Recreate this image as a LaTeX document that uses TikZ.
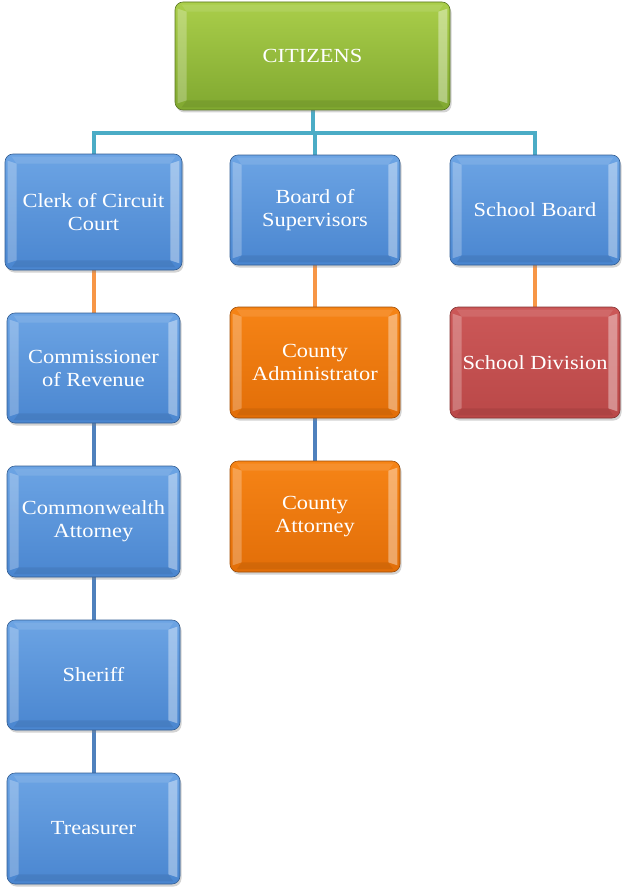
\documentclass[tikz,border=0pt]{standalone}
\usepackage{fontspec}
\setmainfont[FakeStretch=1.12]{Liberation Serif}
\usetikzlibrary{shadows,calc}
\pgfdeclarelayer{background}
\pgfsetlayers{background,main}
\definecolor{gtop}{RGB}{170,206,74}
\definecolor{gbot}{RGB}{128,168,48}
\definecolor{btop}{RGB}{108,164,228}
\definecolor{bbot}{RGB}{74,134,208}
\definecolor{otop}{RGB}{246,132,22}
\definecolor{obot}{RGB}{226,110,8}
\definecolor{rtop}{RGB}{204,88,88}
\definecolor{rbot}{RGB}{186,72,72}
\definecolor{tealline}{RGB}{75,172,198}
\definecolor{orangeline}{RGB}{247,150,70}
\definecolor{blueline}{RGB}{79,129,189}
\tikzset{
  x=1pt, y=1pt,
  orgbox/.style={rounded corners=8pt, draw=#1, line width=0.6pt, text=white,
    align=center, font=\fontsize{20}{23}\selectfont, inner sep=0pt,
    drop shadow={opacity=0.35, shadow xshift=1.5pt, shadow yshift=-2.5pt}},
  greenbox/.style={orgbox={gbot!70!black}, top color=gtop, bottom color=gbot},
  bluebox/.style={orgbox={bbot!70!black}, top color=btop, bottom color=bbot},
  orangebox/.style={orgbox={obot!70!black}, top color=otop, bottom color=obot},
  redbox/.style={orgbox={rbot!70!black}, top color=rtop, bottom color=rbot},
  conn/.style={line width=4pt, draw=#1},
}
\begin{document}
\begin{tikzpicture}
\useasboundingbox (0,0) rectangle (623,-888);
% nodes
\node[greenbox, minimum width=275, minimum height=108] (cit) at (312.5,-56) {CITIZENS};
\node[bluebox, minimum width=177, minimum height=116] (clerk) at (93.5,-212) {Clerk of Circuit\\Court};
\node[bluebox, minimum width=170, minimum height=110] (board) at (315,-210) {Board of\\Supervisors};
\node[bluebox, minimum width=170, minimum height=110] (sb) at (535,-210) {School Board};
\node[bluebox, minimum width=173, minimum height=110] (comm) at (93.5,-368) {Commissioner\\of Revenue};
\node[orangebox, minimum width=170, minimum height=111] (admin) at (315,-362.5) {County\\Administrator};
\node[redbox, minimum width=170, minimum height=111] (sd) at (535,-362.5) {School Division};
\node[bluebox, minimum width=173, minimum height=111] (cwa) at (93.5,-521.5) {Commonwealth\\Attorney};
\node[orangebox, minimum width=170, minimum height=111] (catt) at (315,-516.5) {County\\Attorney};
\node[bluebox, minimum width=173, minimum height=110] (sher) at (93.5,-675) {Sheriff};
\node[bluebox, minimum width=173, minimum height=111] (treas) at (93.5,-828.5) {Treasurer};
% bevels
\foreach \n in {cit,clerk,board,sb,comm,admin,sd,cwa,catt,sher,treas}{
  \path (\n.north west) coordinate (A) (\n.north east) coordinate (B)
        (\n.south east) coordinate (C) (\n.south west) coordinate (D);
  \path ([shift={(12pt,-10pt)}]A) coordinate (a) ([shift={(-12pt,-10pt)}]B) coordinate (b)
        ([shift={(-12pt,10pt)}]C) coordinate (c) ([shift={(12pt,10pt)}]D) coordinate (d);
  \fill[white,opacity=0.25] ([shift={(3pt,-7pt)}]A) -- (a) -- (d) -- ([shift={(3pt,7pt)}]D) -- cycle;
  \fill[white,opacity=0.38] ([shift={(-3pt,-7pt)}]B) -- (b) -- (c) -- ([shift={(-3pt,7pt)}]C) -- cycle;
  \fill[white,opacity=0.10] ([shift={(7pt,-3pt)}]A) -- ([shift={(-7pt,-3pt)}]B) -- (b) -- (a) -- cycle;
  \fill[black,opacity=0.07] ([shift={(7pt,3pt)}]D) -- ([shift={(-7pt,3pt)}]C) -- (c) -- (d) -- cycle;
}
% connectors
\begin{pgfonlayer}{background}
\coordinate (bar) at ($(cit.south)+(0,-23)$);
\draw[conn=tealline] (cit.south) -- (bar) -| (clerk.north);
\draw[conn=tealline] (bar) -| (sb.north);
\draw[conn=tealline] (bar) -| (board.north);
\draw[conn=orangeline] (clerk.south) -- (comm.north);
\draw[conn=orangeline] (board.south) -- (admin.north);
\draw[conn=orangeline] (sb.south) -- (sd.north);
\draw[conn=blueline] (comm.south) -- (cwa.north);
\draw[conn=blueline] (cwa.south) -- (sher.north);
\draw[conn=blueline] (sher.south) -- (treas.north);
\draw[conn=blueline] (admin.south) -- (catt.north);
\end{pgfonlayer}
\end{tikzpicture}
\end{document}
